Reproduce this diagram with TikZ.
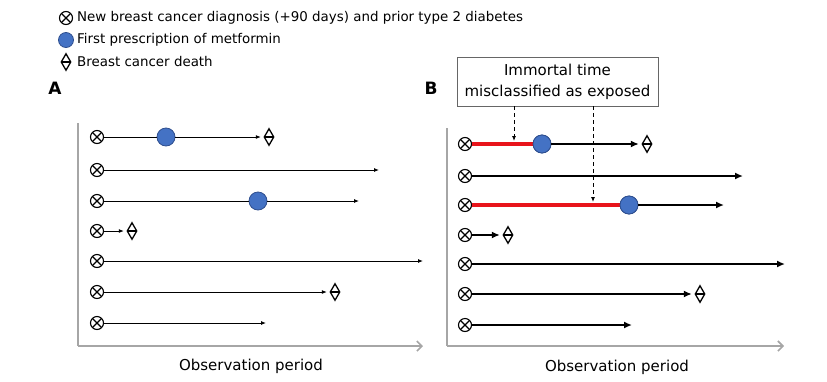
\documentclass[tikz,border=0pt]{standalone}
\usepackage{fontspec}
\setmainfont{DejaVu Sans}
\usetikzlibrary{shapes.geometric,arrows.meta}
\definecolor{metblue}{HTML}{4472C4}
\definecolor{metedge}{HTML}{2F4F8F}
\definecolor{immred}{HTML}{E8141B}
\definecolor{axisgray}{HTML}{A6A6A6}
\begin{document}
\begin{tikzpicture}[x=1pt,y=-1pt,
  xo/.style={circle,draw,minimum size=13,inner sep=0,line width=1.1,fill=white,
    path picture={\draw[line width=1.1] (path picture bounding box.north west) -- (path picture bounding box.south east)
      (path picture bounding box.north east) -- (path picture bounding box.south west);}},
  met/.style={circle,fill=metblue,draw=metedge,line width=0.8,minimum size=18,inner sep=0},
  death/.style={diamond,draw,line width=1.3,minimum width=10,minimum height=17,inner sep=0,
    path picture={\draw[line width=1.3] (path picture bounding box.west) -- (path picture bounding box.east);}},
  thinln/.style={line width=0.9},
  thinarr/.style={line width=0.9,-{Latex[length=5,width=4]}},
  thickln/.style={line width=2.2},
  thickarr/.style={line width=2.2,-{Latex[length=8,width=7]}},
  redln/.style={line width=3.6,immred},
  axisln/.style={line width=1.6,axisgray,-{Straight Barb[length=5,width=10,line width=1.6]}},
  legtext/.style={anchor=west,inner sep=0,font=\fontsize{13.4}{16}\selectfont},
  obstext/.style={inner sep=0,font=\fontsize{15}{18}\selectfont},
  panel/.style={inner sep=0,font=\fontsize{17}{20}\selectfont\bfseries},
  dasharr/.style={line width=0.9,dashed,dash pattern=on 4pt off 3pt,-{Latex[length=5,width=4]}}
]
\useasboundingbox (0,0) rectangle (827,381);

% legend
\node[xo] (lx) at (66,18) {};
\node[legtext] (lxt) at (77,18) {New breast cancer diagnosis (+90 days) and prior type 2 diabetes};
\node[met,minimum size=15] (lm) at (66,40) {};
\node[legtext] (lmt) at (77,40) {First prescription of metformin};
\node[death] (ld) at (66,62) {};
\node[legtext] (ldt) at (77,62) {Breast cancer death};

\node[panel] (pa) at (55,88) {A};
\node[panel] (pb) at (431,88) {B};

% ---------- panel A ----------
\coordinate (atop) at (78,123);
\coordinate (aorig) at (78,346);
\coordinate (aend) at (423,346);
\draw[line width=1.6,axisgray] (atop) -- (aorig);
\draw[axisln] (aorig) -- (aend);
\node[obstext] (aobs) at (251,366) {Observation period};

% row 1
\node[xo] (a1) at (97,137) {};
\node[met] (a1m) at (166,137) {};
\node[death] (a1d) at (269,137) {};
\draw[thinln] (a1) -- (a1m);
\draw[thinarr,shorten >=2.5] (a1m) -- (a1d);
% row 2
\node[xo] (a2) at (97,170) {};
\coordinate (a2e) at (379,170);
\draw[thinarr] (a2) -- (a2e);
% row 3
\node[xo] (a3) at (97,201) {};
\node[met] (a3m) at (258,201) {};
\coordinate (a3e) at (359,201);
\draw[thinln] (a3) -- (a3m);
\draw[thinarr] (a3m) -- (a3e);
% row 4
\node[xo] (a4) at (97,231) {};
\node[death] (a4d) at (132,231) {};
\draw[thinarr,shorten >=2.5] (a4) -- (a4d);
% row 5
\node[xo] (a5) at (97,261) {};
\coordinate (a5e) at (423,261);
\draw[thinarr] (a5) -- (a5e);
% row 6
\node[xo] (a6) at (97,292) {};
\node[death] (a6d) at (335,292) {};
\draw[thinarr,shorten >=2.5] (a6) -- (a6d);
% row 7
\node[xo] (a7) at (97,323) {};
\coordinate (a7e) at (266,323);
\draw[thinarr] (a7) -- (a7e);

% ---------- panel B ----------
\coordinate (btop) at (447,128);
\coordinate (borig) at (447,346);
\coordinate (bend) at (784,346);
\draw[line width=1.6,axisgray] (btop) -- (borig);
\draw[axisln] (borig) -- (bend);
\node[obstext] (bobs) at (617,367) {Observation period};

\node[draw=black!60,line width=0.8,minimum width=201,minimum height=49,inner sep=0,align=center,
  font=\fontsize{15}{21}\selectfont] (box) at (557.5,81.5) {Immortal time\\misclassified as exposed};

% row 1
\node[xo] (b1) at (465,144) {};
\node[met] (b1m) at (542,144) {};
\node[death] (b1d) at (647,144) {};
\draw[redln] (b1) -- (b1m);
\node[met] at (b1m) {};
\draw[thickarr,shorten >=2.5] (b1m) -- (b1d);
% row 2
\node[xo] (b2) at (465,176) {};
\coordinate (b2e) at (743,176);
\draw[thickarr] (b2) -- (b2e);
% row 3
\node[xo] (b3) at (465,205) {};
\node[met] (b3m) at (629,205) {};
\coordinate (b3e) at (724,205);
\draw[redln] (b3) -- (b3m);
\node[met] at (b3m) {};
\draw[thickarr] (b3m) -- (b3e);
% row 4
\node[xo] (b4) at (465,235) {};
\node[death] (b4d) at (508,235) {};
\draw[thickarr,shorten >=2.5] (b4) -- (b4d);
% row 5
\node[xo] (b5) at (465,264) {};
\coordinate (b5e) at (785,264);
\draw[thickarr] (b5) -- (b5e);
% row 6
\node[xo] (b6) at (465,294) {};
\node[death] (b6d) at (700,294) {};
\draw[thickarr,shorten >=2.5] (b6) -- (b6d);
% row 7
\node[xo] (b7) at (465,325) {};
\coordinate (b7e) at (632,325);
\draw[thickarr] (b7) -- (b7e);

% dashed pointers
\coordinate (da1) at (514,141);
\coordinate (da2) at (593,202);
\draw[dasharr] (box.south -| da1) -- (da1);
\draw[dasharr] (box.south -| da2) -- (da2);
\end{tikzpicture}
\end{document}
